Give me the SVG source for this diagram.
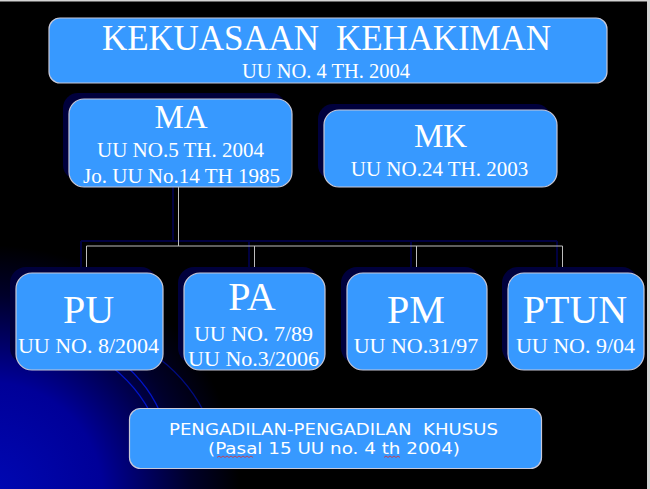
<svg xmlns="http://www.w3.org/2000/svg" width="650" height="489" viewBox="0 0 650 489">
<defs>
<radialGradient id="bg" gradientUnits="userSpaceOnUse" cx="-10" cy="495" r="250">
<stop offset="0" stop-color="#0008b4"/>
<stop offset="0.45" stop-color="#000098"/>
<stop offset="0.8" stop-color="#00002a"/>
<stop offset="1" stop-color="#000000"/>
</radialGradient>
<style>
.box{fill:#3799ff;stroke:#c8c8d8;stroke-width:1.2}
.sh{fill:#00003c}
.t{fill:#ffffff;font-family:"Liberation Serif","Times New Roman",serif;text-anchor:middle}
.s{fill:#ffffff;font-family:"DejaVu Sans",Verdana,sans-serif;text-anchor:middle}
.cg{fill:none;stroke:#bdbdbd;stroke-width:1}
.cn{fill:none;stroke:#000040;stroke-width:2}
.arc{fill:none;stroke:#0014c8;stroke-width:1.4}
.sq{fill:none;stroke:#e03030;stroke-width:0.8}
</style>
</defs>
<rect x="0" y="0" width="650" height="489" fill="#000000"/>
<rect x="0" y="0" width="650" height="489" fill="url(#bg)"/>
<path class="arc" d="M95,355 Q132,378 150,412"/>
<path class="arc" d="M112,355 Q145,378 160,412"/>
<path class="arc" d="M150,352 Q185,375 204,412" stroke-opacity="0.6"/>
<rect x="0" y="0" width="650" height="1.5" fill="#d4d4d4"/>
<rect x="647" y="0" width="3" height="489" fill="#d4d4d4"/>

<g id="connectors">
<path class="cn" d="M173,182 V241 M81,241 H557 M81,241 V268 M249,241 V268 M411,241 V268 M557,241 V268"/>
<path class="cg" d="M178.5,187 V246 M86.5,246 H562.5 M86.5,246 V273 M254.5,246 V273 M416.5,246 V273 M562.5,246 V273"/>
</g>

<g id="kekuasaan">
<rect class="box" x="49" y="18" width="558" height="65" rx="11" stroke="#e8e8f0"/>
<text class="t" x="326.5" y="50" font-size="35" textLength="449" lengthAdjust="spacing" xml:space="preserve">KEKUASAAN  KEHAKIMAN</text>
<text class="t" x="326" y="78" font-size="20.5">UU NO. 4 TH. 2004</text>
</g>

<g id="ma">
<rect class="sh" x="63" y="93" width="223" height="87" rx="15"/>
<rect class="box" x="69" y="99" width="223" height="88" rx="15"/>
<text class="t" x="181" y="128" font-size="33">MA</text>
<text class="t" x="180.5" y="157" font-size="21">UU NO.5 TH. 2004</text>
<text class="t" x="181.5" y="183" font-size="21">Jo. UU No.14 TH 1985</text>
</g>

<g id="mk">
<rect class="sh" x="318" y="104" width="233" height="76" rx="15"/>
<rect class="box" x="324" y="110" width="233" height="77" rx="15"/>
<text class="t" x="440.5" y="147" font-size="33">MK</text>
<text class="t" x="439.5" y="176" font-size="21">UU NO.24 TH. 2003</text>
</g>

<g id="pu">
<rect class="sh" x="10" y="267" width="147" height="97" rx="16"/>
<rect class="box" x="16" y="273" width="147" height="97" rx="16"/>
<text class="t" x="88.5" y="323" font-size="40">PU</text>
<text class="t" x="88.5" y="353" font-size="22">UU NO. 8/2004</text>
</g>

<g id="pa">
<rect class="sh" x="178" y="267" width="141" height="97" rx="16"/>
<rect class="box" x="184" y="273" width="141" height="97" rx="16"/>
<text class="t" x="252" y="310" font-size="40">PA</text>
<text class="t" x="253.5" y="341" font-size="22">UU NO. 7/89</text>
<text class="t" x="253.5" y="366" font-size="22">UU No.3/2006</text>
</g>

<g id="pm">
<rect class="sh" x="341" y="267" width="140" height="97" rx="16"/>
<rect class="box" x="347" y="273" width="140" height="97" rx="16"/>
<text class="t" x="416" y="323" font-size="40">PM</text>
<text class="t" x="416" y="353" font-size="22">UU NO.31/97</text>
</g>

<g id="ptun">
<rect class="sh" x="502" y="267" width="136" height="97" rx="16"/>
<rect class="box" x="508" y="273" width="136" height="97" rx="16"/>
<text class="t" x="575" y="323" font-size="40">PTUN</text>
<text class="t" x="575.5" y="353" font-size="22">UU NO. 9/04</text>
</g>

<g id="khusus">
<rect class="box" x="129.5" y="408.5" width="412" height="60" rx="11" stroke="#e8e8f0"/>
<text class="s" x="333.5" y="435" font-size="16.5" textLength="329" lengthAdjust="spacingAndGlyphs" xml:space="preserve">PENGADILAN-PENGADILAN  KHUSUS</text>
<text class="s" x="334" y="454" font-size="16.5" textLength="252" lengthAdjust="spacingAndGlyphs">(Pasal 15 UU no. 4 th 2004)</text>
<path class="sq" d="M217,457.5 l2,-1.5 l2,1.5 l2,-1.5 l2,1.5 l2,-1.5 l2,1.5 l2,-1.5 l2,1.5 l2,-1.5 l2,1.5 l2,-1.5 l2,1.5 l2,-1.5 l2,1.5 l2,-1.5 l2,1.5 l2,-1.5 l2,1.5"/>
<path class="sq" d="M384,457.5 l2,-1.5 l2,1.5 l2,-1.5 l2,1.5 l2,-1.5 l2,1.5 l2,-1.5 l2,1.5"/>
</g>
</svg>
